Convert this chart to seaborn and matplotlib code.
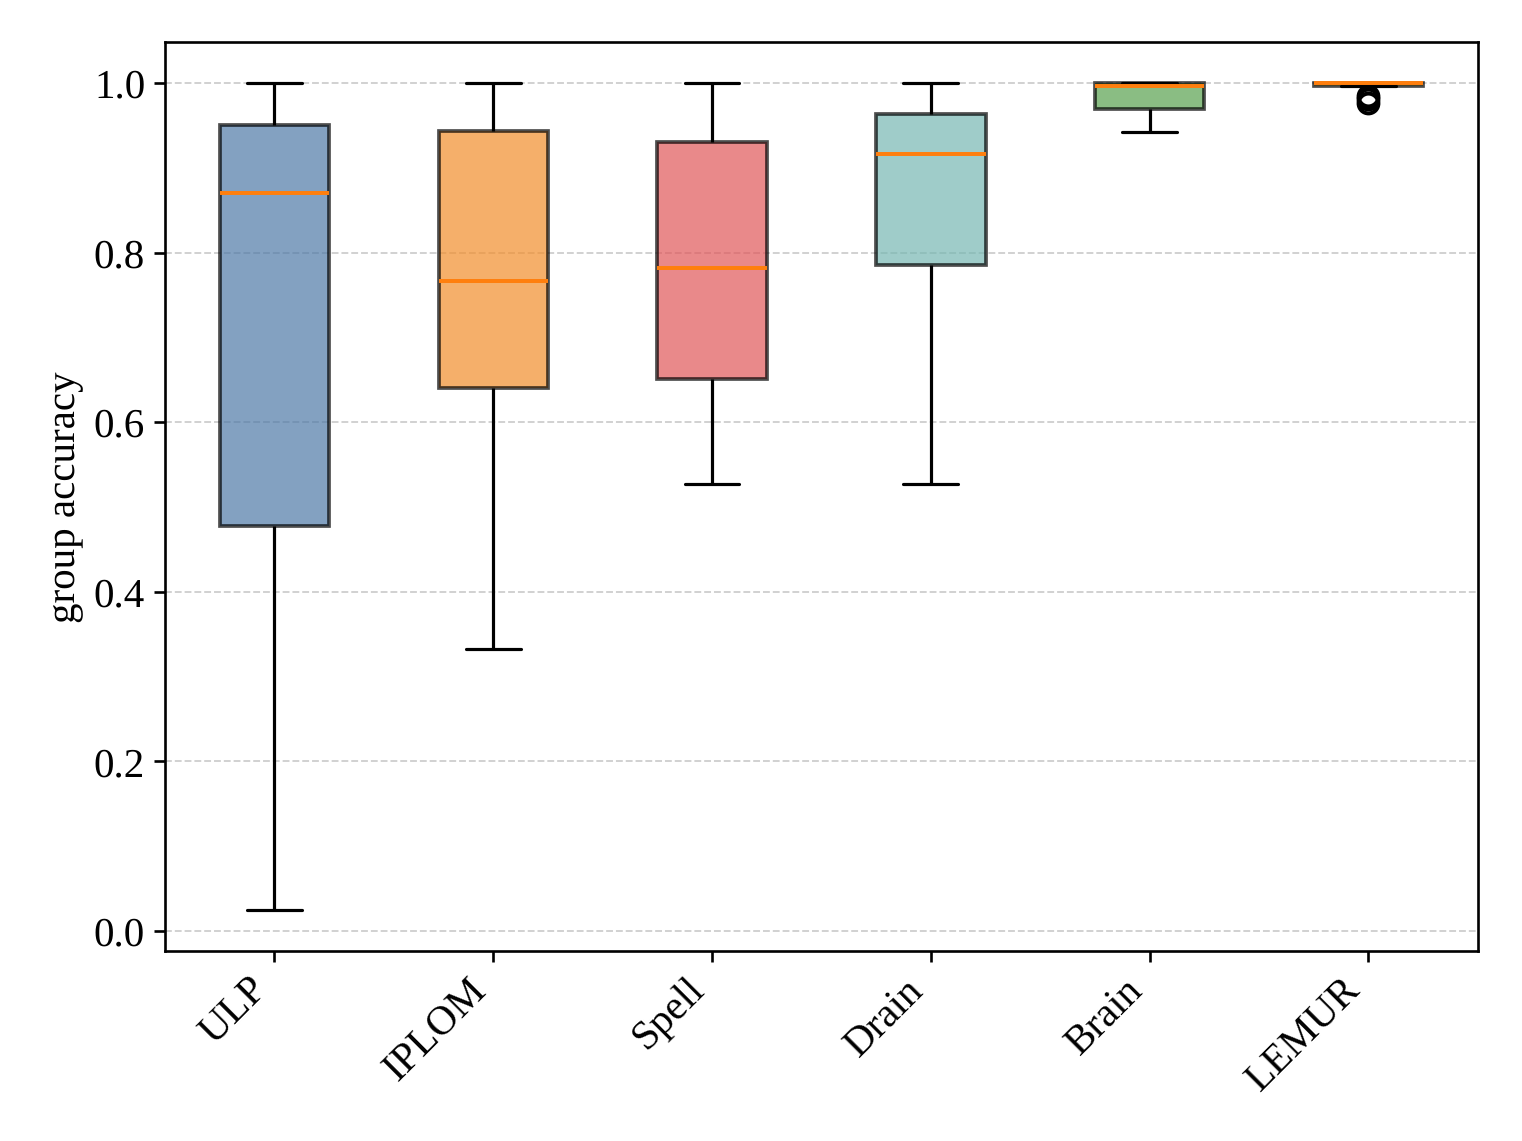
import numpy as np
import pandas as pd
import matplotlib
matplotlib.use("Agg")
import matplotlib.pyplot as plt
import seaborn as sns

# Values (per method: sample points giving whiskers, quartiles, median)
methods = ["ULP", "IPLOM", "Spell", "Drain", "Brain", "LEMUR"]
ulp = [0.025, 0.478, 0.870, 0.950, 1.0]
iplom = [0.332, 0.640, 0.767, 0.943, 1.0]
spell = [0.527, 0.651, 0.782, 0.930, 1.0]
drain = [0.527, 0.785, 0.916, 0.963, 1.0]
brain = [0.942, 0.969, 0.997, 1.0, 1.0]
lemur = [0.977, 0.981, 0.985, 0.997, 0.997, 0.998, 1.0, 1.0, 1.0, 1.0, 1.0, 1.0, 1.0]
colors = ["#4E79A7", "#F28E2B", "#E15759", "#76B7B2", "#59A14F", "#EDC948"]

df = pd.DataFrame({
    "method": sum([[m] * len(v) for m, v in zip(methods, [ulp, iplom, spell, drain, brain, lemur])], []),
    "acc": ulp + iplom + spell + drain + brain + lemur,
})

sns.set_style("white")
FONT = "Liberation Serif"
plt.rcParams["font.family"] = FONT
plt.rcParams["text.hinting"] = "no_hinting"
plt.rcParams["text.hinting_factor"] = 1
for k in ["text.color", "axes.labelcolor", "xtick.color", "ytick.color"]:
    plt.rcParams[k] = "black"

fig, ax = plt.subplots(figsize=(8, 6), dpi=190.25)
fig.subplots_adjust(left=0.1084, right=0.971, top=0.963, bottom=0.1665)

sns.boxplot(
    data=df, x="method", y="acc", hue="method", order=methods,
    palette=colors, saturation=1, width=0.5, linewidth=1.2,
    linecolor="black", legend=False, ax=ax,
    boxprops=dict(alpha=0.7, edgecolor="black", linewidth=1.4),
    medianprops=dict(color="#ff7f0e", linewidth=1.5),
    whiskerprops=dict(color="black", linewidth=1.2),
    capprops=dict(color="black", linewidth=1.2),
    flierprops=dict(marker="o", markerfacecolor="none", markeredgecolor="black",
                    markersize=7.5, markeredgewidth=1.5),
)

ax.set_xlim(-0.5, 5.5)
ax.set_ylim(-0.0238, 1.0488)
yt = [0.0, 0.2, 0.4, 0.6, 0.8, 1.0]
ax.set_yticks(yt)
ax.set_yticklabels([f"{t:.1f}" for t in yt], fontsize=15.5)
ax.set_xticks(range(len(methods)))
ax.set_xticklabels(methods, rotation=45, ha="right", fontsize=15.5)
ax.tick_params(axis="both", direction="out", length=4, width=1, color="black", bottom=True, left=True)
ax.set_xlabel("")
ax.set_ylabel("group accuracy", fontsize=15.5)
ax.yaxis.grid(True, linestyle="--", color="#bbbbbb", alpha=0.7, linewidth=0.7)
ax.set_axisbelow(True)
for s in ax.spines.values():
    s.set_visible(True)
    s.set_color("black")
    s.set_linewidth(1.0)

fig.savefig("out.png", dpi=190.25)
